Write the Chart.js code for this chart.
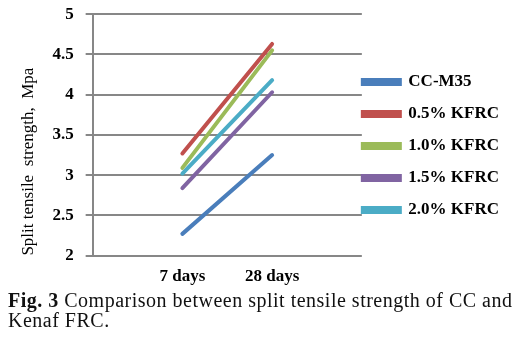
<!DOCTYPE html>
<html>
<head>
<meta charset="utf-8">
<script src="https://cdn.jsdelivr.net/npm/chart.js@4/dist/chart.umd.min.js"></script>
<style>
  body { margin: 0; background: #fff; width: 523px; height: 345px; overflow: hidden; position: relative; }
  #wrap { position: absolute; left: 0; top: -8px; width: 523px; height: 302px; }
  #caption {
    position: absolute; left: 8px; top: 290px; width: 515px;
    font-family: "Liberation Serif", serif; font-size: 20px; line-height: 20px;
    letter-spacing: 0.5px; color: #111; white-space: nowrap;
  }
</style>
</head>
<body>
<div id="wrap"><canvas id="strengthChart"></canvas></div>
<div id="caption"><b>Fig. 3</b> Comparison between split tensile strength of CC and<br>Kenaf FRC.</div>
<script>
// ages, padded with blank slots so the two points sit at 1/3 and 2/3 of the width
const ages = ['', '7 days', '28 days', ''];
const seriesNames = ['CC-M35', '0.5% KFRC', '1.0% KFRC', '1.5% KFRC', '2.0% KFRC'];
const ccM35 = [null, 2.27, 3.25, null];
const kfrc05 = [null, 3.27, 4.63, null];
const kfrc10 = [null, 3.09, 4.55, null];
const kfrc15 = [null, 2.84, 4.03, null];
const kfrc20 = [null, 3.02, 4.18, null];
const colors = ['#4a7ebb', '#c0504d', '#9bbb59', '#8064a2', '#4bacc6'];

const allSeries = [ccM35, kfrc05, kfrc10, kfrc15, kfrc20];
const gridGrey = '#878787';
const boldSerif = { family: 'Liberation Serif', size: 17, weight: 'bold' };

// legend sits right against the plot in the original, pull it in a bit
const legendNudge = {
  id: 'legendNudge',
  afterLayout(chart) {
    chart.legend.left -= 14;
    chart.legend.right -= 14;
    chart.legend.top += 3;
    chart.legend.bottom += 3;
  }
};

const ctx = document.getElementById('strengthChart').getContext('2d');
new Chart(ctx, {
  type: 'line',
  data: {
    labels: ages,
    datasets: allSeries.map((vals, i) => ({
      label: seriesNames[i],
      data: vals,
      borderColor: colors[i],
      backgroundColor: colors[i],
      borderWidth: 4,
      borderCapStyle: 'round',
      pointRadius: 0,
      tension: 0
    }))
  },
  plugins: [legendNudge],
  options: {
    responsive: true,
    maintainAspectRatio: false,
    animation: false,
    layout: { padding: { left: 14, top: 4, right: 0, bottom: 4 } },
    plugins: {
      tooltip: { enabled: false },
      legend: {
        position: 'right',
        maxWidth: 200,
        labels: {
          boxWidth: 37,
          boxHeight: 4,
          padding: 15,
          color: '#000',
          font: boldSerif
        }
      }
    },
    scales: {
      x: {
        offset: false,
        grid: { display: false },
        border: { display: false },
        ticks: {
          color: '#000',
          autoSkip: false,
          maxRotation: 0,
          padding: 3,
          font: boldSerif
        }
      },
      y: {
        min: 2,
        max: 5,
        grid: { color: gridGrey, lineWidth: 2, tickLength: 7 },
        border: { display: true, color: gridGrey, width: 2 },
        ticks: {
          stepSize: 0.5,
          padding: 12,
          color: '#000',
          font: boldSerif,
          callback: (v) => String(v)
        },
        title: {
          display: true,
          align: 'start',
          text: 'Split tensile  strength,  Mpa',
          color: '#000',
          padding: { top: 4, bottom: 2 },
          font: { family: 'Liberation Serif', size: 17 }
        }
      }
    }
  }
});
</script>
</body>
</html>
